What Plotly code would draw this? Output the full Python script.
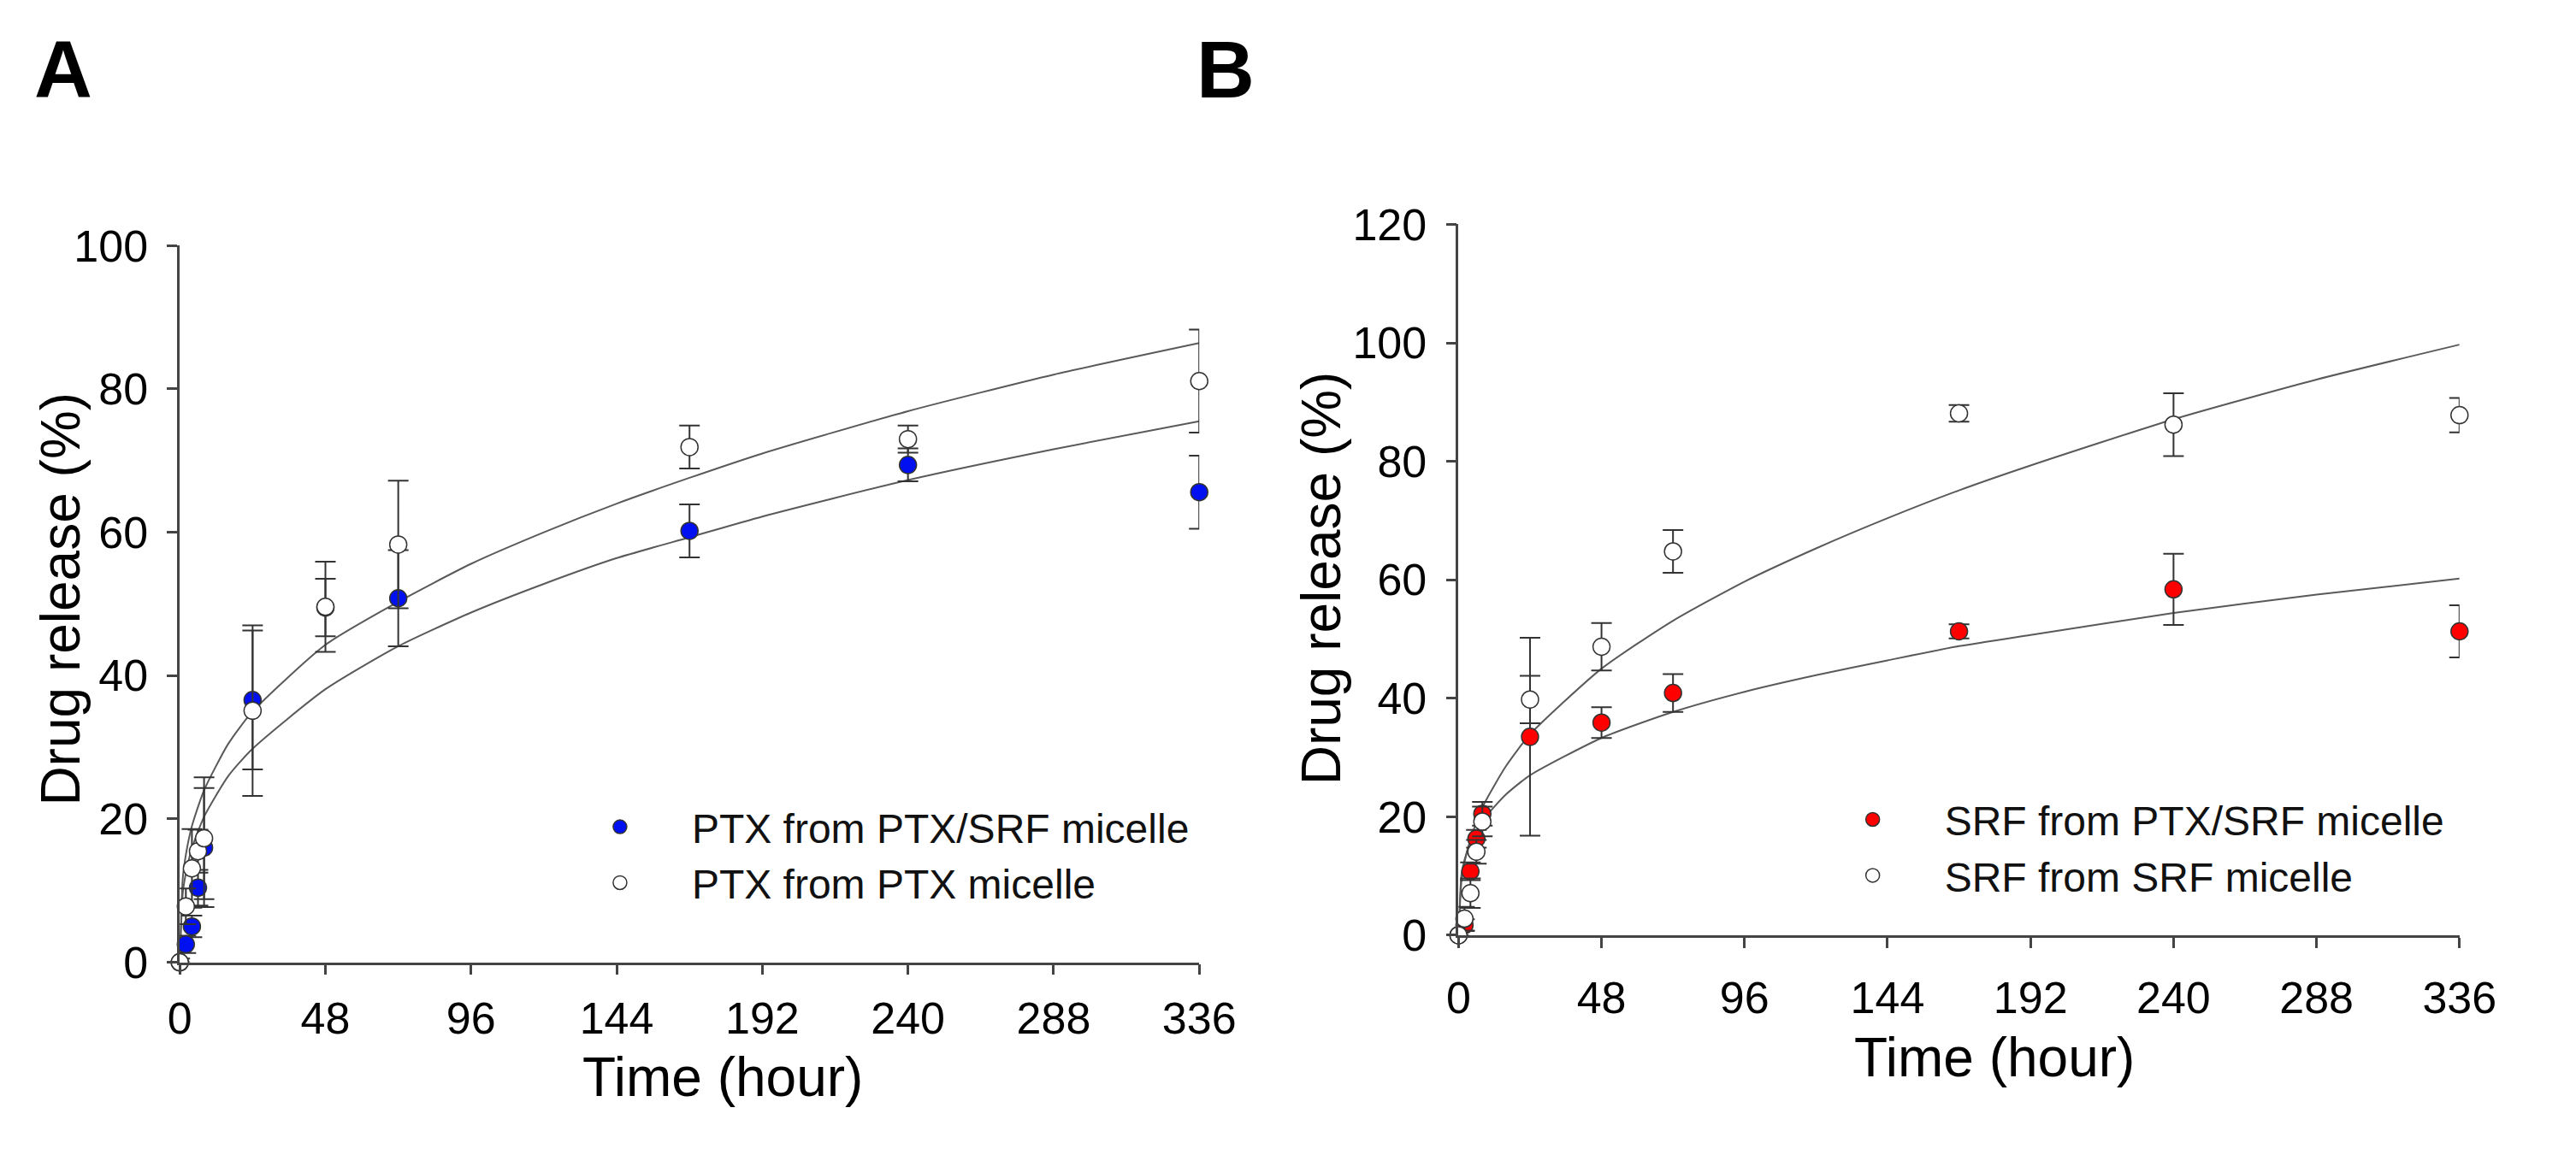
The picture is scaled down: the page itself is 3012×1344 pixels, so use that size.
"""Drug release profiles of PTX and SRF micelles (panels A and B).

Markers are mean release (%) with SD error bars; grey lines are the
fitted release curves read off the original figure.
"""

from __future__ import annotations

import plotly.graph_objects as go

# ---------------------------------------------------------------------------
# Data
# ---------------------------------------------------------------------------

time_h = [0, 2, 4, 6, 8, 24, 48, 72, 168, 240, 336]

# Panel A -- paclitaxel
ptx_dual = [0, 2.5, 5.0, 10.4, 16.0, 36.6, 49.5, 50.8, 60.2, 69.4, 65.6]
ptx_dual_sd = [0, 1.2, 1.5, 2.5, 8.3, 9.7, 4.0, 6.7, 3.7, 2.3, 5.1]
ptx_single = [0, 7.8, 13.1, 15.5, 17.3, 35.1, 49.6, 58.3, 71.9, 73.0, 81.1]
ptx_single_sd = [0.5, 2.5, 5.5, 3.0, 8.5, 11.9, 6.3, 8.9, 3.0, 1.9, 7.2]

# Panel B -- sorafenib
srf_dual = [0, 1.7, 10.8, 16.3, 20.5, 33.5, 35.9, 40.9, 51.3, 58.4, 51.3]
srf_dual_sd = [0, 1.0, 1.5, 1.5, 2.0, 16.7, 2.6, 3.2, 1.2, 6.0, 4.4]
srf_single = [0, 2.8, 7.1, 14.1, 19.2, 39.8, 48.7, 64.8, 88.1, 86.2, 87.8]
srf_single_sd = [0.5, 2.0, 2.5, 2.0, 2.5, 4.0, 4.0, 3.6, 1.4, 5.3, 2.9]

# Fitted curves
fit_t = [0, 1, 2, 4, 8, 16, 24, 48, 72, 96, 120, 144, 168, 192, 240, 288, 336]
fit_ptx_single = [0, 11.8, 15.0, 19.0, 24.0, 30.5, 35.0, 44.3, 50.3, 55.6,
                  60.0, 64.0, 67.6, 71.0, 76.9, 82.0, 86.4]
fit_ptx_dual = [0, 9.7, 12.4, 15.9, 20.3, 26.0, 29.8, 38.1, 44.1, 48.8,
                52.8, 56.4, 59.3, 62.2, 67.3, 71.6, 75.5]
fit_srf_single = [0, 9.2, 12.3, 16.2, 21.6, 28.6, 33.9, 45.0, 53.1, 59.7,
                  65.3, 70.4, 75.1, 79.3, 87.1, 93.8, 99.7]
fit_srf_dual = [0, 10.3, 12.7, 15.6, 19.3, 23.8, 27.0, 33.3, 37.7, 41.1,
                43.9, 46.4, 48.8, 50.7, 54.4, 57.5, 60.2]

x_ticks = [0, 48, 96, 144, 192, 240, 288, 336]

FONT = "Liberation Sans, Arial, sans-serif"
AXIS_GREY = "#444444"
W, H = 3012, 1344


def _fit_line(x, y, xa, ya):
    return go.Scatter(
        x=x, y=y, xaxis=xa, yaxis=ya,
        mode="lines", line=dict(color="#5a5a5a", width=2, shape="spline", smoothing=0.6),
        showlegend=False, hoverinfo="skip",
    )


def _points(y, sd, name, fill, xa, ya, legend):
    return go.Scatter(
        x=time_h, y=y, xaxis=xa, yaxis=ya,
        mode="markers", name=name, legend=legend,
        marker=dict(size=20, color=fill, line=dict(color="#333333", width=1.5)),
        error_y=dict(type="data", array=sd, visible=True,
                     color="#333333", thickness=2, width=12),
        cliponaxis=False,
    )


def px(v, total):
    return v / total


fig = go.Figure()

# -- Panel A -----------------------------------------------------------------
fig.add_trace(_fit_line(fit_t, fit_ptx_single, "x", "y"))
fig.add_trace(_fit_line(fit_t, fit_ptx_dual, "x", "y"))
fig.add_trace(_points(ptx_dual, ptx_dual_sd, "PTX from PTX/SRF micelle", "#0010f0", "x", "y", "legend"))
fig.add_trace(_points(ptx_single, ptx_single_sd, "PTX from PTX micelle", "white", "x", "y", "legend"))

# -- Panel B -----------------------------------------------------------------
fig.add_trace(_fit_line(fit_t, fit_srf_single, "x2", "y2"))
fig.add_trace(_fit_line(fit_t, fit_srf_dual, "x2", "y2"))
fig.add_trace(_points(srf_dual, srf_dual_sd, "SRF from PTX/SRF micelle", "#ff0000", "x2", "y2", "legend2"))
fig.add_trace(_points(srf_single, srf_single_sd, "SRF from SRF micelle", "white", "x2", "y2", "legend2"))

# -- Axes --------------------------------------------------------------------
axis_common = dict(
    showgrid=False, zeroline=False, showline=True,
    linecolor=AXIS_GREY, linewidth=2.5,
    ticks="outside", ticklen=12, tickwidth=2.5, tickcolor=AXIS_GREY,
    tickfont=dict(family=FONT, size=52, color="black"),
)

fig.update_layout(
    xaxis=dict(axis_common, domain=[px(200, W), px(1415, W)], range=[0, 336],
               tickvals=x_ticks, anchor="y", ticklabelstandoff=6),
    yaxis=dict(axis_common, domain=[1 - px(1146, H), 1 - px(270, H)], range=[0, 100],
               dtick=20, anchor="x", ticklabelstandoff=12),
    xaxis2=dict(axis_common, domain=[px(1724, W), px(2917, W)], range=[0, 336],
                tickvals=x_ticks, anchor="y2", ticklabelstandoff=14),
    yaxis2=dict(axis_common, domain=[1 - px(1113, H), 1 - px(244, H)], range=[0, 120],
                dtick=20, anchor="x2", ticklabelstandoff=12),
)

# -- Legends -----------------------------------------------------------------
legend_common = dict(
    font=dict(family=FONT, size=48, color="#111111"),
    bgcolor="rgba(0,0,0,0)", borderwidth=0,
    itemwidth=158, xanchor="left", yanchor="top", tracegroupgap=0,
)
fig.update_layout(
    legend=dict(legend_common, x=px(639, W), y=1 - px(941, H)),
    legend2=dict(legend_common, x=px(2132, W), y=1 - px(932, H)),
)

# -- Titles and panel letters ------------------------------------------------
title_font = dict(family=FONT, size=64, color="black")
annotations = [
    dict(text="Drug release (%)", x=px(58, W), y=1 - px(702, H), textangle=-90),
    dict(text="Time (hour)", x=px(847, W), y=1 - px(1287, H)),
    dict(text="Drug release (%)", x=px(1560, W), y=1 - px(676, H), textangle=-90),
    dict(text="Time (hour)", x=px(2363, W), y=1 - px(1262, H)),
]
for a in annotations:
    fig.add_annotation(a, xref="paper", yref="paper", showarrow=False,
                       xanchor="center", yanchor="middle", font=title_font)

for letter, lx in (("A", 61), ("B", 1446)):
    fig.add_annotation(text=f"<b>{letter}</b>", x=px(lx, W), y=1 - px(55, H),
                       xref="paper", yref="paper", showarrow=False,
                       xanchor="center", yanchor="middle",
                       font=dict(family=FONT, size=94, color="black"))

fig.update_layout(
    width=W, height=H,
    margin=dict(l=0, r=0, t=0, b=0),
    paper_bgcolor="white", plot_bgcolor="white",
    font=dict(family=FONT),
)

# drop the browser's default body margin so the figure sits at the page origin
fig.write_html(
    "out.html",
    config={"displayModeBar": False},
    post_script="document.body.style.margin='0';",
)
